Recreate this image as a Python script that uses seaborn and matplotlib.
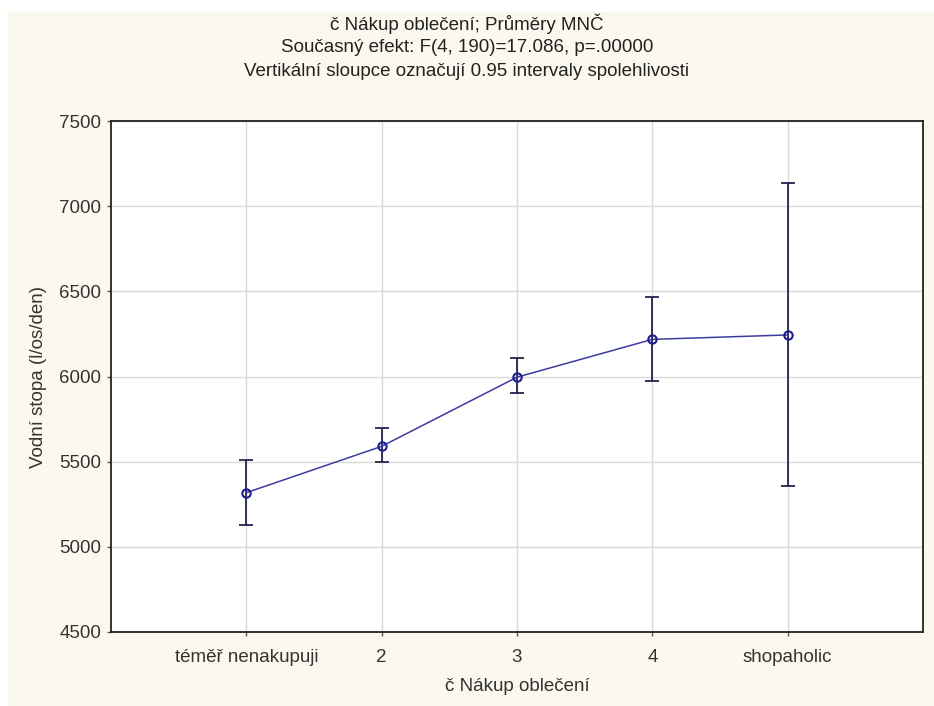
import numpy as np
import pandas as pd
import matplotlib.pyplot as plt
import seaborn as sns
from matplotlib.patches import Rectangle

# Data (means and 0.95 CI bounds)
categories = ['téměř nenakupuji', '2', '3', '4', 'shopaholic']
means = [5318, 5590, 5996, 6218, 6244]
ci_low = [5129, 5498, 5902, 5975, 5355]
ci_high = [5508, 5698, 6106, 6469, 7135]
y_ticks = [4500, 5000, 5500, 6000, 6500, 7000, 7500]

title_lines = [
    'č Nákup oblečení; Průměry MNČ',
    'Současný efekt: F(4, 190)=17.086, p=.00000',
    'Vertikální sloupce označují 0.95 intervaly spolehlivosti',
]

sns.set_style('white')
plt.rcParams['font.family'] = ['Liberation Sans', 'DejaVu Sans']

df = pd.DataFrame({'cat': categories, 'mean': means,
                   'lo': ci_low, 'hi': ci_high})

fig = plt.figure(figsize=(9.34, 7.06), dpi=100)
fig.patch.set_facecolor('white')
# cream panel behind the chart (white strip on top / left as in the screenshot)
fig.patches.append(Rectangle((8 / 934, 0), 1, 1 - 12 / 706, transform=fig.transFigure,
                             facecolor='#fbf8ee', edgecolor='none', zorder=-10))

ax = fig.add_axes([111 / 934, 1 - 632 / 706, (923 - 111) / 934, (632 - 121) / 706])
ax.set_facecolor('white')

yerr = np.array([df['mean'] - df['lo'], df['hi'] - df['mean']])
ax.errorbar(x=np.arange(len(df)), y=df['mean'], yerr=yerr, fmt='none',
            ecolor='#24244e', elinewidth=1.3, capsize=5, capthick=1.3, zorder=3)

sns.pointplot(data=df, x='cat', y='mean', ax=ax, errorbar=None,
              color='#3c3ca0', linewidth=1.1, markers='o', markersize=6,
              markerfacecolor='none', markeredgecolor='#1e1e8c', markeredgewidth=1.5)
for line in ax.lines:
    line.set_zorder(4)

ax.set_xlim(-1, len(categories))
ax.set_ylim(4500, 7500)
ax.set_yticks(y_ticks)
ax.set_xticks(range(len(categories)))
ax.set_xticklabels(categories)

ax.grid(True, color='#d9d9d9', linewidth=1)
ax.set_axisbelow(True)
for sp in ax.spines.values():
    sp.set_visible(True)
    sp.set_color('#222222')
    sp.set_linewidth(1.3)

ax.tick_params(axis='both', direction='out', length=3, width=1, color='#555555',
               labelsize=13.5, labelcolor='#333333', pad=4, bottom=True, left=True)
ax.tick_params(axis='x', pad=9)

ax.set_xlabel('č Nákup oblečení', fontsize=13.5, color='#333333', labelpad=9)
ax.set_ylabel('Vodní stopa (l/os/den)', fontsize=13.5, color='#333333', labelpad=9)

for i, t in enumerate(title_lines):
    fig.text(467 / 934, 1 - (24 + 23.5 * i) / 706, t, ha='center', va='center',
             fontsize=13.5, color='#222222')

fig.savefig('out.png', dpi=100, facecolor=fig.get_facecolor())
